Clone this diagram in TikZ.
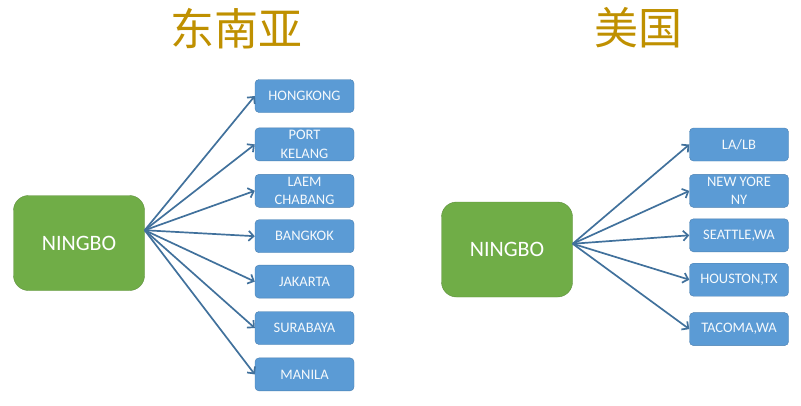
\documentclass[tikz,border=0pt]{standalone}
\usepackage{fontspec}
\setmainfont{Carlito}
\newfontfamily\cjk{Noto Sans CJK SC}
\usetikzlibrary{positioning,arrows.meta}
\definecolor{hubgreen}{HTML}{70AD47}
\definecolor{hubedge}{HTML}{5E8F3C}
\definecolor{portblue}{HTML}{5B9BD5}
\definecolor{portedge}{HTML}{4A7FB0}
\definecolor{linkblue}{HTML}{41719C}
\definecolor{titlegold}{HTML}{BF9000}

\begin{document}
\begin{tikzpicture}[x=1pt, y=-1pt, >={Straight Barb[length=5pt,width=10pt]},
  hub/.style={draw=hubedge, fill=hubgreen, rounded corners=15pt, minimum width=131pt,
    minimum height=95pt, text=white, font=\fontsize{22}{26}\selectfont},
  port/.style={draw=portedge, fill=portblue, rounded corners=4pt, minimum width=99pt,
    minimum height=33pt, inner ysep=0pt, align=center, text=white!94!portblue,
    font=\fontsize{14.5}{18.5}\selectfont},
  title/.style={text=titlegold, font=\cjk\fontsize{44}{48}\selectfont},
  link/.style={->, line width=1.7pt, draw=linkblue}]
  \useasboundingbox (0,0) rectangle (801,405);
  % south-east asia
  \node(asia)[title] at (236,29) {东南亚};
  \node(ningL)[hub] at (79,243) {NINGBO};
  \node(hk)[port] at (304.5,96) {HONGKONG};
  \node(pk)[port, below=15pt of hk] {PORT\\KELANG};
  \node(lc)[port, below=13pt of pk] {LAEM\\CHABANG};
  \node(bk)[port, below=12pt of lc] {BANGKOK};
  \node(jk)[port, below=12pt of bk] {JAKARTA};
  \node(sb)[port, below=13pt of jk] {SURABAYA};
  \node(mn)[port, below=13pt of sb] {MANILA};
  \foreach \p in {hk,pk,lc,bk,jk,sb,mn}
    \draw[link] (ningL.11) -- (\p.west);
  % usa
  \node(usa)[title] at (638,28) {美国};
  \node(ningR)[hub] at (507,249.5) {NINGBO};
  \node(la)[port] at (739,144.5) {LA/LB};
  \node(ny)[port, below=13pt of la] {NEW YORE\\NY};
  \node(se)[port, below=11pt of ny] {SEATTLE,WA};
  \node(ho)[port, below=11pt of se] {HOUSTON,TX};
  \node(ta)[port, below=16pt of ho] {TACOMA,WA};
  \foreach \p in {la,ny,se,ho,ta}
    \draw[link] (ningR.5) -- (\p.west);
\end{tikzpicture}
\end{document}
